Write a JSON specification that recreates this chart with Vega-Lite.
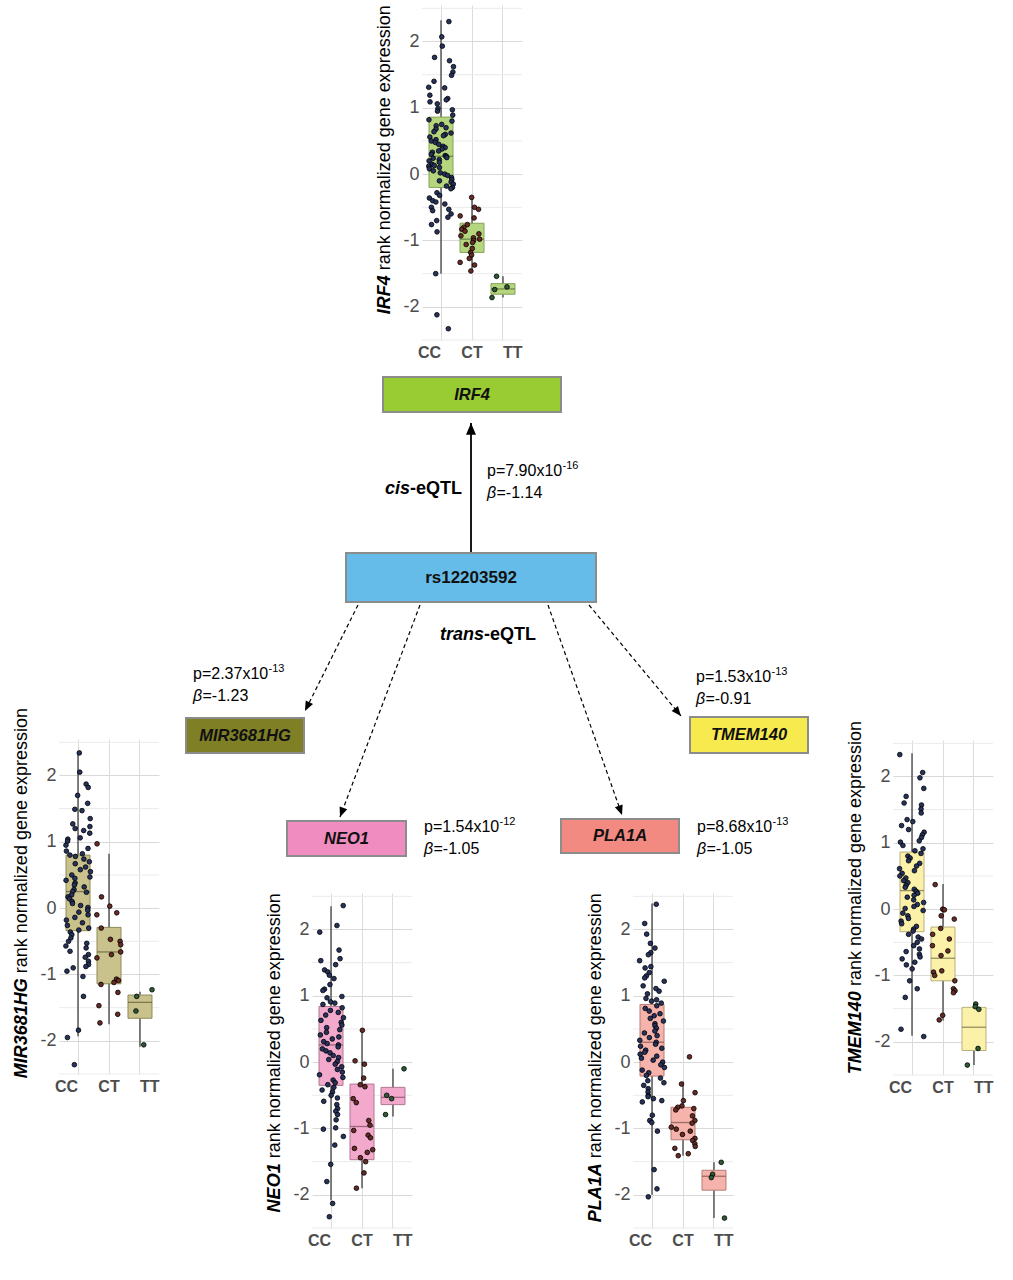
{
"$schema": "https://vega.github.io/schema/vega-lite/v6.json",
"autosize": {"type": "none"},
"padding": {"left": 0, "top": 5, "right": 1013, "bottom": 1280},
"background": "white",
"config": {
  "view": {"stroke": null},
  "font": "Liberation Sans",
  "concat": {"spacing": 0},
  "axisX": {"grid": true, "gridColor": "#dcdcdc", "gridWidth": 1, "ticks": false, "domain": false, "labelFontSize": 16, "labelFontWeight": "bold", "labelColor": "#4d4d4d", "labelPadding": 4, "labelAngle": 0, "bandPosition": 0.5},
  "axisY": {"grid": true, "gridColor": "#d9d9d9", "ticks": false, "domain": false, "labelFontSize": 18, "labelColor": "#4d4d4d", "labelPadding": 3}
},
"datasets": {
  "minorgrid": [{"minor": -2.5}, {"minor": -1.5}, {"minor": -0.5}, {"minor": 0.5}, {"minor": 1.5}, {"minor": 2.5}],
  "boxes": [
    {"gene":"IRF4","genotype":"CC","lower":-1.50,"q1":-0.20,"median":0.27,"q3":0.86,"upper":2.32},
    {"gene":"IRF4","genotype":"CT","lower":-1.46,"q1":-1.18,"median":-0.98,"q3":-0.74,"upper":-0.35},
    {"gene":"IRF4","genotype":"TT","lower":-1.86,"q1":-1.81,"median":-1.73,"q3":-1.65,"upper":-1.54},
    {"gene":"MIR3681HG","genotype":"CC","lower":-1.93,"q1":-0.34,"median":0.25,"q3":0.80,"upper":2.34},
    {"gene":"MIR3681HG","genotype":"CT","lower":-1.75,"q1":-1.14,"median":-0.66,"q3":-0.29,"upper":0.82},
    {"gene":"MIR3681HG","genotype":"TT","lower":-2.09,"q1":-1.66,"median":-1.42,"q3":-1.31,"upper":-1.26},
    {"gene":"NEO1","genotype":"CC","lower":-2.08,"q1":-0.35,"median":0.26,"q3":0.84,"upper":2.35},
    {"gene":"NEO1","genotype":"CT","lower":-1.90,"q1":-1.47,"median":-0.97,"q3":-0.33,"upper":0.45},
    {"gene":"NEO1","genotype":"TT","lower":-0.82,"q1":-0.64,"median":-0.53,"q3":-0.38,"upper":-0.10},
    {"gene":"PLA1A","genotype":"CC","lower":-2.00,"q1":-0.21,"median":0.30,"q3":0.87,"upper":2.39},
    {"gene":"PLA1A","genotype":"CT","lower":-1.41,"q1":-1.17,"median":-0.91,"q3":-0.68,"upper":-0.29},
    {"gene":"PLA1A","genotype":"TT","lower":-2.35,"q1":-1.93,"median":-1.72,"q3":-1.63,"upper":-1.51},
    {"gene":"TMEM140","genotype":"CC","lower":-1.91,"q1":-0.34,"median":0.28,"q3":0.86,"upper":2.35},
    {"gene":"TMEM140","genotype":"CT","lower":-1.68,"q1":-1.08,"median":-0.74,"q3":-0.27,"upper":0.38},
    {"gene":"TMEM140","genotype":"TT","lower":-2.35,"q1":-2.13,"median":-1.78,"q3":-1.48,"upper":-1.43}
  ],
  "irf4": [
    {"genotype":"CC","expr":2.30},{"genotype":"CC","expr":2.07},{"genotype":"CC","expr":1.93},{"genotype":"CC","expr":1.76},{"genotype":"CC","expr":1.71},{"genotype":"CC","expr":1.62},{"genotype":"CC","expr":1.54},{"genotype":"CC","expr":1.49},{"genotype":"CC","expr":1.40},{"genotype":"CC","expr":1.31},
    {"genotype":"CC","expr":1.30},{"genotype":"CC","expr":1.19},{"genotype":"CC","expr":1.14},{"genotype":"CC","expr":1.12},{"genotype":"CC","expr":1.09},{"genotype":"CC","expr":1.06},{"genotype":"CC","expr":0.99},{"genotype":"CC","expr":0.97},{"genotype":"CC","expr":0.95},{"genotype":"CC","expr":0.89},
    {"genotype":"CC","expr":0.82},{"genotype":"CC","expr":0.80},{"genotype":"CC","expr":0.75},{"genotype":"CC","expr":0.73},{"genotype":"CC","expr":0.70},{"genotype":"CC","expr":0.68},{"genotype":"CC","expr":0.64},{"genotype":"CC","expr":0.62},{"genotype":"CC","expr":0.60},{"genotype":"CC","expr":0.58},
    {"genotype":"CC","expr":0.56},{"genotype":"CC","expr":0.52},{"genotype":"CC","expr":0.50},{"genotype":"CC","expr":0.48},{"genotype":"CC","expr":0.45},{"genotype":"CC","expr":0.42},{"genotype":"CC","expr":0.40},{"genotype":"CC","expr":0.38},{"genotype":"CC","expr":0.35},{"genotype":"CC","expr":0.33},
    {"genotype":"CC","expr":0.30},{"genotype":"CC","expr":0.28},{"genotype":"CC","expr":0.27},{"genotype":"CC","expr":0.25},{"genotype":"CC","expr":0.24},{"genotype":"CC","expr":0.22},{"genotype":"CC","expr":0.20},{"genotype":"CC","expr":0.18},{"genotype":"CC","expr":0.15},{"genotype":"CC","expr":0.13},
    {"genotype":"CC","expr":0.12},{"genotype":"CC","expr":0.10},{"genotype":"CC","expr":0.08},{"genotype":"CC","expr":0.05},{"genotype":"CC","expr":0.02},{"genotype":"CC","expr":0.00},{"genotype":"CC","expr":-0.02},{"genotype":"CC","expr":-0.05},{"genotype":"CC","expr":-0.08},{"genotype":"CC","expr":-0.10},
    {"genotype":"CC","expr":-0.12},{"genotype":"CC","expr":-0.15},{"genotype":"CC","expr":-0.18},{"genotype":"CC","expr":-0.20},{"genotype":"CC","expr":-0.22},{"genotype":"CC","expr":-0.28},{"genotype":"CC","expr":-0.32},{"genotype":"CC","expr":-0.36},{"genotype":"CC","expr":-0.40},{"genotype":"CC","expr":-0.42},
    {"genotype":"CC","expr":-0.45},{"genotype":"CC","expr":-0.50},{"genotype":"CC","expr":-0.53},{"genotype":"CC","expr":-0.55},{"genotype":"CC","expr":-0.60},{"genotype":"CC","expr":-0.65},{"genotype":"CC","expr":-0.70},{"genotype":"CC","expr":-0.76},{"genotype":"CC","expr":-0.87},{"genotype":"CC","expr":-1.50},
    {"genotype":"CC","expr":-2.12},{"genotype":"CC","expr":-2.33},
    {"genotype":"CT","expr":-0.35},{"genotype":"CT","expr":-0.50},{"genotype":"CT","expr":-0.53},{"genotype":"CT","expr":-0.63},{"genotype":"CT","expr":-0.66},{"genotype":"CT","expr":-0.76},{"genotype":"CT","expr":-0.80},{"genotype":"CT","expr":-0.83},{"genotype":"CT","expr":-0.86},{"genotype":"CT","expr":-0.90},
    {"genotype":"CT","expr":-0.93},{"genotype":"CT","expr":-0.96},{"genotype":"CT","expr":-0.98},{"genotype":"CT","expr":-1.00},{"genotype":"CT","expr":-1.03},{"genotype":"CT","expr":-1.06},{"genotype":"CT","expr":-1.12},{"genotype":"CT","expr":-1.18},{"genotype":"CT","expr":-1.22},{"genotype":"CT","expr":-1.27},
    {"genotype":"CT","expr":-1.33},{"genotype":"CT","expr":-1.37},{"genotype":"CT","expr":-1.46},
    {"genotype":"TT","expr":-1.54},{"genotype":"TT","expr":-1.70},{"genotype":"TT","expr":-1.74},{"genotype":"TT","expr":-1.86}
  ],
  "mir": [
    {"genotype":"CC","expr":2.34},{"genotype":"CC","expr":2.05},{"genotype":"CC","expr":1.87},{"genotype":"CC","expr":1.82},{"genotype":"CC","expr":1.70},{"genotype":"CC","expr":1.58},{"genotype":"CC","expr":1.49},{"genotype":"CC","expr":1.47},{"genotype":"CC","expr":1.35},{"genotype":"CC","expr":1.27},
    {"genotype":"CC","expr":1.23},{"genotype":"CC","expr":1.20},{"genotype":"CC","expr":1.17},{"genotype":"CC","expr":1.13},{"genotype":"CC","expr":1.06},{"genotype":"CC","expr":1.04},{"genotype":"CC","expr":1.01},{"genotype":"CC","expr":0.95},{"genotype":"CC","expr":0.90},{"genotype":"CC","expr":0.86},
    {"genotype":"CC","expr":0.82},{"genotype":"CC","expr":0.80},{"genotype":"CC","expr":0.78},{"genotype":"CC","expr":0.74},{"genotype":"CC","expr":0.70},{"genotype":"CC","expr":0.67},{"genotype":"CC","expr":0.62},{"genotype":"CC","expr":0.58},{"genotype":"CC","expr":0.55},{"genotype":"CC","expr":0.50},
    {"genotype":"CC","expr":0.47},{"genotype":"CC","expr":0.45},{"genotype":"CC","expr":0.42},{"genotype":"CC","expr":0.38},{"genotype":"CC","expr":0.35},{"genotype":"CC","expr":0.32},{"genotype":"CC","expr":0.28},{"genotype":"CC","expr":0.25},{"genotype":"CC","expr":0.24},{"genotype":"CC","expr":0.20},
    {"genotype":"CC","expr":0.17},{"genotype":"CC","expr":0.14},{"genotype":"CC","expr":0.10},{"genotype":"CC","expr":0.07},{"genotype":"CC","expr":0.04},{"genotype":"CC","expr":0.01},{"genotype":"CC","expr":-0.03},{"genotype":"CC","expr":-0.06},{"genotype":"CC","expr":-0.10},{"genotype":"CC","expr":-0.14},
    {"genotype":"CC","expr":-0.18},{"genotype":"CC","expr":-0.22},{"genotype":"CC","expr":-0.26},{"genotype":"CC","expr":-0.30},{"genotype":"CC","expr":-0.33},{"genotype":"CC","expr":-0.36},{"genotype":"CC","expr":-0.40},{"genotype":"CC","expr":-0.45},{"genotype":"CC","expr":-0.50},{"genotype":"CC","expr":-0.53},
    {"genotype":"CC","expr":-0.57},{"genotype":"CC","expr":-0.60},{"genotype":"CC","expr":-0.65},{"genotype":"CC","expr":-0.70},{"genotype":"CC","expr":-0.74},{"genotype":"CC","expr":-0.80},{"genotype":"CC","expr":-0.85},{"genotype":"CC","expr":-0.88},{"genotype":"CC","expr":-0.90},{"genotype":"CC","expr":-0.95},
    {"genotype":"CC","expr":-1.03},{"genotype":"CC","expr":-1.33},{"genotype":"CC","expr":-1.84},{"genotype":"CC","expr":-1.95},{"genotype":"CC","expr":-2.36},
    {"genotype":"CT","expr":0.97},{"genotype":"CT","expr":0.17},{"genotype":"CT","expr":0.03},{"genotype":"CT","expr":-0.07},{"genotype":"CT","expr":-0.10},{"genotype":"CT","expr":-0.30},{"genotype":"CT","expr":-0.47},{"genotype":"CT","expr":-0.50},{"genotype":"CT","expr":-0.55},{"genotype":"CT","expr":-0.66},
    {"genotype":"CT","expr":-0.70},{"genotype":"CT","expr":-0.75},{"genotype":"CT","expr":-1.07},{"genotype":"CT","expr":-1.09},{"genotype":"CT","expr":-1.12},{"genotype":"CT","expr":-1.15},{"genotype":"CT","expr":-1.27},{"genotype":"CT","expr":-1.47},{"genotype":"CT","expr":-1.60},{"genotype":"CT","expr":-1.73},
    {"genotype":"TT","expr":-1.23},{"genotype":"TT","expr":-1.33},{"genotype":"TT","expr":-1.55},{"genotype":"TT","expr":-2.06}
  ],
  "neo1": [
    {"genotype":"CC","expr":2.36},{"genotype":"CC","expr":2.06},{"genotype":"CC","expr":1.96},{"genotype":"CC","expr":1.69},{"genotype":"CC","expr":1.56},{"genotype":"CC","expr":1.53},{"genotype":"CC","expr":1.47},{"genotype":"CC","expr":1.39},{"genotype":"CC","expr":1.36},{"genotype":"CC","expr":1.31},
    {"genotype":"CC","expr":1.26},{"genotype":"CC","expr":1.17},{"genotype":"CC","expr":1.10},{"genotype":"CC","expr":1.08},{"genotype":"CC","expr":0.99},{"genotype":"CC","expr":0.97},{"genotype":"CC","expr":0.91},{"genotype":"CC","expr":0.89},{"genotype":"CC","expr":0.87},{"genotype":"CC","expr":0.82},
    {"genotype":"CC","expr":0.78},{"genotype":"CC","expr":0.75},{"genotype":"CC","expr":0.71},{"genotype":"CC","expr":0.67},{"genotype":"CC","expr":0.63},{"genotype":"CC","expr":0.60},{"genotype":"CC","expr":0.56},{"genotype":"CC","expr":0.52},{"genotype":"CC","expr":0.49},{"genotype":"CC","expr":0.45},
    {"genotype":"CC","expr":0.41},{"genotype":"CC","expr":0.38},{"genotype":"CC","expr":0.35},{"genotype":"CC","expr":0.31},{"genotype":"CC","expr":0.28},{"genotype":"CC","expr":0.26},{"genotype":"CC","expr":0.23},{"genotype":"CC","expr":0.20},{"genotype":"CC","expr":0.17},{"genotype":"CC","expr":0.14},
    {"genotype":"CC","expr":0.10},{"genotype":"CC","expr":0.07},{"genotype":"CC","expr":0.04},{"genotype":"CC","expr":0.01},{"genotype":"CC","expr":-0.03},{"genotype":"CC","expr":-0.07},{"genotype":"CC","expr":-0.11},{"genotype":"CC","expr":-0.15},{"genotype":"CC","expr":-0.19},{"genotype":"CC","expr":-0.23},
    {"genotype":"CC","expr":-0.27},{"genotype":"CC","expr":-0.31},{"genotype":"CC","expr":-0.34},{"genotype":"CC","expr":-0.38},{"genotype":"CC","expr":-0.42},{"genotype":"CC","expr":-0.45},{"genotype":"CC","expr":-0.50},{"genotype":"CC","expr":-0.54},{"genotype":"CC","expr":-0.59},{"genotype":"CC","expr":-0.64},
    {"genotype":"CC","expr":-0.70},{"genotype":"CC","expr":-0.74},{"genotype":"CC","expr":-0.79},{"genotype":"CC","expr":-0.87},{"genotype":"CC","expr":-0.99},{"genotype":"CC","expr":-1.01},{"genotype":"CC","expr":-1.12},{"genotype":"CC","expr":-1.25},{"genotype":"CC","expr":-1.54},{"genotype":"CC","expr":-1.80},
    {"genotype":"CC","expr":-2.13},{"genotype":"CC","expr":-2.33},
    {"genotype":"CT","expr":0.48},{"genotype":"CT","expr":0.02},{"genotype":"CT","expr":-0.03},{"genotype":"CT","expr":-0.24},{"genotype":"CT","expr":-0.34},{"genotype":"CT","expr":-0.37},{"genotype":"CT","expr":-0.55},{"genotype":"CT","expr":-0.61},{"genotype":"CT","expr":-0.88},{"genotype":"CT","expr":-0.95},
    {"genotype":"CT","expr":-1.03},{"genotype":"CT","expr":-1.10},{"genotype":"CT","expr":-1.14},{"genotype":"CT","expr":-1.30},{"genotype":"CT","expr":-1.32},{"genotype":"CT","expr":-1.36},{"genotype":"CT","expr":-1.44},{"genotype":"CT","expr":-1.50},{"genotype":"CT","expr":-1.67},{"genotype":"CT","expr":-1.90},
    {"genotype":"TT","expr":-0.10},{"genotype":"TT","expr":-0.50},{"genotype":"TT","expr":-0.55},{"genotype":"TT","expr":-0.79}
  ],
  "pla1a": [
    {"genotype":"CC","expr":2.38},{"genotype":"CC","expr":2.09},{"genotype":"CC","expr":1.93},{"genotype":"CC","expr":1.79},{"genotype":"CC","expr":1.72},{"genotype":"CC","expr":1.65},{"genotype":"CC","expr":1.62},{"genotype":"CC","expr":1.53},{"genotype":"CC","expr":1.44},{"genotype":"CC","expr":1.42},
    {"genotype":"CC","expr":1.35},{"genotype":"CC","expr":1.30},{"genotype":"CC","expr":1.27},{"genotype":"CC","expr":1.22},{"genotype":"CC","expr":1.15},{"genotype":"CC","expr":1.11},{"genotype":"CC","expr":1.07},{"genotype":"CC","expr":1.03},{"genotype":"CC","expr":0.96},{"genotype":"CC","expr":0.94},
    {"genotype":"CC","expr":0.92},{"genotype":"CC","expr":0.89},{"genotype":"CC","expr":0.85},{"genotype":"CC","expr":0.81},{"genotype":"CC","expr":0.77},{"genotype":"CC","expr":0.73},{"genotype":"CC","expr":0.70},{"genotype":"CC","expr":0.66},{"genotype":"CC","expr":0.62},{"genotype":"CC","expr":0.58},
    {"genotype":"CC","expr":0.55},{"genotype":"CC","expr":0.51},{"genotype":"CC","expr":0.47},{"genotype":"CC","expr":0.44},{"genotype":"CC","expr":0.40},{"genotype":"CC","expr":0.37},{"genotype":"CC","expr":0.33},{"genotype":"CC","expr":0.30},{"genotype":"CC","expr":0.27},{"genotype":"CC","expr":0.24},
    {"genotype":"CC","expr":0.21},{"genotype":"CC","expr":0.18},{"genotype":"CC","expr":0.15},{"genotype":"CC","expr":0.12},{"genotype":"CC","expr":0.09},{"genotype":"CC","expr":0.06},{"genotype":"CC","expr":0.03},{"genotype":"CC","expr":0.00},{"genotype":"CC","expr":-0.04},{"genotype":"CC","expr":-0.08},
    {"genotype":"CC","expr":-0.12},{"genotype":"CC","expr":-0.16},{"genotype":"CC","expr":-0.20},{"genotype":"CC","expr":-0.24},{"genotype":"CC","expr":-0.28},{"genotype":"CC","expr":-0.31},{"genotype":"CC","expr":-0.35},{"genotype":"CC","expr":-0.40},{"genotype":"CC","expr":-0.45},{"genotype":"CC","expr":-0.50},
    {"genotype":"CC","expr":-0.52},{"genotype":"CC","expr":-0.55},{"genotype":"CC","expr":-0.58},{"genotype":"CC","expr":-0.60},{"genotype":"CC","expr":-0.80},{"genotype":"CC","expr":-0.88},{"genotype":"CC","expr":-0.91},{"genotype":"CC","expr":-1.04},{"genotype":"CC","expr":-1.62},{"genotype":"CC","expr":-1.91},
    {"genotype":"CC","expr":-2.03},
    {"genotype":"CT","expr":0.08},{"genotype":"CT","expr":-0.33},{"genotype":"CT","expr":-0.46},{"genotype":"CT","expr":-0.58},{"genotype":"CT","expr":-0.66},{"genotype":"CT","expr":-0.68},{"genotype":"CT","expr":-0.70},{"genotype":"CT","expr":-0.72},{"genotype":"CT","expr":-0.81},{"genotype":"CT","expr":-0.88},
    {"genotype":"CT","expr":-0.92},{"genotype":"CT","expr":-0.98},{"genotype":"CT","expr":-1.01},{"genotype":"CT","expr":-1.04},{"genotype":"CT","expr":-1.09},{"genotype":"CT","expr":-1.15},{"genotype":"CT","expr":-1.18},{"genotype":"CT","expr":-1.23},{"genotype":"CT","expr":-1.27},{"genotype":"CT","expr":-1.30},
    {"genotype":"CT","expr":-1.38},{"genotype":"CT","expr":-1.41},
    {"genotype":"TT","expr":-1.51},{"genotype":"TT","expr":-1.69},{"genotype":"TT","expr":-1.74},{"genotype":"TT","expr":-2.35}
  ],
  "tmem140": [
    {"genotype":"CC","expr":2.33},{"genotype":"CC","expr":2.06},{"genotype":"CC","expr":1.98},{"genotype":"CC","expr":1.82},{"genotype":"CC","expr":1.70},{"genotype":"CC","expr":1.60},{"genotype":"CC","expr":1.57},{"genotype":"CC","expr":1.51},{"genotype":"CC","expr":1.45},{"genotype":"CC","expr":1.35},
    {"genotype":"CC","expr":1.32},{"genotype":"CC","expr":1.26},{"genotype":"CC","expr":1.20},{"genotype":"CC","expr":1.16},{"genotype":"CC","expr":1.12},{"genotype":"CC","expr":1.08},{"genotype":"CC","expr":1.03},{"genotype":"CC","expr":1.01},{"genotype":"CC","expr":0.96},{"genotype":"CC","expr":0.91},
    {"genotype":"CC","expr":0.88},{"genotype":"CC","expr":0.84},{"genotype":"CC","expr":0.80},{"genotype":"CC","expr":0.77},{"genotype":"CC","expr":0.73},{"genotype":"CC","expr":0.69},{"genotype":"CC","expr":0.65},{"genotype":"CC","expr":0.61},{"genotype":"CC","expr":0.58},{"genotype":"CC","expr":0.54},
    {"genotype":"CC","expr":0.50},{"genotype":"CC","expr":0.47},{"genotype":"CC","expr":0.43},{"genotype":"CC","expr":0.40},{"genotype":"CC","expr":0.36},{"genotype":"CC","expr":0.33},{"genotype":"CC","expr":0.30},{"genotype":"CC","expr":0.27},{"genotype":"CC","expr":0.24},{"genotype":"CC","expr":0.21},
    {"genotype":"CC","expr":0.18},{"genotype":"CC","expr":0.14},{"genotype":"CC","expr":0.10},{"genotype":"CC","expr":0.07},{"genotype":"CC","expr":0.04},{"genotype":"CC","expr":0.01},{"genotype":"CC","expr":-0.02},{"genotype":"CC","expr":-0.06},{"genotype":"CC","expr":-0.10},{"genotype":"CC","expr":-0.14},
    {"genotype":"CC","expr":-0.18},{"genotype":"CC","expr":-0.22},{"genotype":"CC","expr":-0.26},{"genotype":"CC","expr":-0.30},{"genotype":"CC","expr":-0.33},{"genotype":"CC","expr":-0.38},{"genotype":"CC","expr":-0.42},{"genotype":"CC","expr":-0.45},{"genotype":"CC","expr":-0.50},{"genotype":"CC","expr":-0.55},
    {"genotype":"CC","expr":-0.60},{"genotype":"CC","expr":-0.64},{"genotype":"CC","expr":-0.68},{"genotype":"CC","expr":-0.72},{"genotype":"CC","expr":-0.75},{"genotype":"CC","expr":-0.80},{"genotype":"CC","expr":-0.84},{"genotype":"CC","expr":-0.90},{"genotype":"CC","expr":-1.08},{"genotype":"CC","expr":-1.20},
    {"genotype":"CC","expr":-1.33},{"genotype":"CC","expr":-1.81},{"genotype":"CC","expr":-1.92},
    {"genotype":"CT","expr":0.37},{"genotype":"CT","expr":0.00},{"genotype":"CT","expr":-0.01},{"genotype":"CT","expr":-0.10},{"genotype":"CT","expr":-0.15},{"genotype":"CT","expr":-0.29},{"genotype":"CT","expr":-0.38},{"genotype":"CT","expr":-0.45},{"genotype":"CT","expr":-0.55},{"genotype":"CT","expr":-0.63},
    {"genotype":"CT","expr":-0.70},{"genotype":"CT","expr":-0.93},{"genotype":"CT","expr":-0.95},{"genotype":"CT","expr":-1.00},{"genotype":"CT","expr":-1.08},{"genotype":"CT","expr":-1.20},{"genotype":"CT","expr":-1.23},{"genotype":"CT","expr":-1.26},{"genotype":"CT","expr":-1.60},{"genotype":"CT","expr":-1.67},
    {"genotype":"TT","expr":-1.43},{"genotype":"TT","expr":-1.47},{"genotype":"TT","expr":-1.51},{"genotype":"TT","expr":-2.10},{"genotype":"TT","expr":-2.35}
  ],
  "nodes": [
    {"node":"IRF4","kind":"gene","left":383,"right":561,"top":377,"bottom":412},
    {"node":"rs12203592","kind":"snp","left":346,"right":596,"top":553,"bottom":602},
    {"node":"MIR3681HG","kind":"gene","left":186,"right":304,"top":718,"bottom":753},
    {"node":"NEO1","kind":"gene","left":287,"right":406,"top":821,"bottom":856},
    {"node":"PLA1A","kind":"gene","left":561,"right":679,"top":819,"bottom":853},
    {"node":"TMEM140","kind":"gene","left":690,"right":808,"top":717,"bottom":753}
  ],
  "edges": [
    {"target":"IRF4","kind":"cis","x0":471,"y0":552,"x1":471,"y1":423,"lx":487,"ly":476,"p":"7.90","pexp":"-16","beta":"-1.14"},
    {"target":"MIR3681HG","kind":"trans","x0":358,"y0":605,"x1":305,"y1":711,"lx":193,"ly":679,"p":"2.37","pexp":"-13","beta":"-1.23"},
    {"target":"NEO1","kind":"trans","x0":420,"y0":605,"x1":340,"y1":817,"lx":424,"ly":832,"p":"1.54","pexp":"-12","beta":"-1.05"},
    {"target":"PLA1A","kind":"trans","x0":548,"y0":605,"x1":622,"y1":815,"lx":697,"ly":832,"p":"8.68","pexp":"-13","beta":"-1.05"},
    {"target":"TMEM140","kind":"trans","x0":589,"y0":605,"x1":681,"y1":716,"lx":696,"ly":682,"p":"1.53","pexp":"-13","beta":"-0.91"}
  ],
  "eqtl": [
    {"term":"cis","x":410,"y":494},
    {"term":"trans","x":484,"y":640}
  ]
},
"spacing": 0,
"hconcat": [
  {
    "bounds": "flush", "spacing": 0,
    "vconcat": [
      {"width": 170, "height": 734, "data": {"values": []}, "mark": {"type": "point", "opacity": 0}},
      {
        "bounds": "flush", "spacing": 0,
        "hconcat": [
          {"width": 59, "height": 335, "data": {"values": []}, "mark": {"type": "point", "opacity": 0}},
          {
            "width": 100, "height": 335,
            "layer": [
              {"data": {"name": "minorgrid"},
               "mark": {"type": "rule", "color": "#ebebeb", "strokeWidth": 1},
               "encoding": {"y": {"field": "minor", "type": "quantitative", "title": null, "scale": {"domain": [-2.5, 2.55], "nice": false, "zero": false},
                                  "axis": {"values": [-2,-1,0,1,2], "labelExpr": "'' + datum.value"}}}},
              {"data": {"name": "boxes"}, "transform": [{"filter": "datum.gene === 'MIR3681HG'"}],
               "mark": {"type": "rule", "color": "#333333", "strokeWidth": 1.2},
               "encoding": {
                 "x": {"field": "genotype", "type": "nominal", "title": null, "scale": {"type": "band", "domain": ["CC","CT","TT"], "paddingInner": 0, "paddingOuter": 0.113},
                       "axis": {"labelAlign": {"condition": [{"test": "datum.value === 'CC'", "value": "right"}, {"test": "datum.value === 'TT'", "value": "left"}], "value": "center"}}},
                 "y": {"field": "lower", "type": "quantitative", "title": null},
                 "y2": {"field": "upper"}}},
              {"data": {"name": "boxes"}, "transform": [{"filter": "datum.gene === 'MIR3681HG'"}],
               "mark": {"type": "bar", "width": 24, "fill": "#c9c28c", "stroke": "#8f8a5a", "strokeWidth": 1},
               "encoding": {"x": {"field": "genotype", "type": "nominal", "title": null}, "y": {"field": "q1", "type": "quantitative", "title": null}, "y2": {"field": "q3"}}},
              {"data": {"name": "boxes"}, "transform": [{"filter": "datum.gene === 'MIR3681HG'"}],
               "mark": {"type": "tick", "size": 24, "thickness": 1.3, "color": "#5e5a33"},
               "encoding": {"x": {"field": "genotype", "type": "nominal", "title": null}, "y": {"field": "median", "type": "quantitative", "title": null}}},
              {"data": {"name": "mir"}, "transform": [{"window": [{"op": "row_number", "as": "rn"}]}, {"calculate": "((abs(sin(datum.rn * 12.9898 + 3.1)) * 43758.5453) % 1) - 0.5", "as": "jit"}],
               "mark": {"type": "circle", "size": 22, "stroke": "#000000", "strokeWidth": 0.8, "opacity": 1},
               "encoding": {"x": {"field": "genotype", "type": "nominal", "title": null},
                            "xOffset": {"field": "jit", "type": "quantitative", "scale": {"domain": [-0.5, 0.5], "range": [3, 28]}},
                            "y": {"field": "expr", "type": "quantitative", "title": null},
                            "fill": {"field": "genotype", "type": "nominal", "scale": {"domain": ["CC","CT","TT"], "range": ["#27335f","#6a2b26","#2c5a36"]}, "legend": null}}},
              {"data": {"values": [{"label": "MIR3681HG"}]},
               "mark": {"type": "text", "angle": 270, "align": "right", "baseline": "alphabetic", "fontSize": 18, "fontWeight": "bold", "fontStyle": "italic", "xOffset": -51, "dx": -5, "color": "#000000"},
               "encoding": {"x": {"datum": "CC"}, "y": {"datum": -0.98}, "text": {"field": "label"}}},
              {"data": {"values": [{"label": "rank normalized gene expression"}]},
               "mark": {"type": "text", "angle": 270, "align": "left", "baseline": "alphabetic", "fontSize": 18, "xOffset": -51, "color": "#000000"},
               "encoding": {"x": {"datum": "CC"}, "y": {"datum": -0.98}, "text": {"field": "label"}}}
            ]
          }
        ]
      }
    ]
  },
  {
    "spacing": 0,
    "vconcat": [
      {
        "bounds": "flush", "spacing": 0,
        "hconcat": [
          {"width": 252, "height": 360, "data": {"values": []}, "mark": {"type": "point", "opacity": 0}},
          {
            "width": 100, "height": 335,
            "layer": [
              {"data": {"name": "minorgrid"},
               "mark": {"type": "rule", "color": "#ebebeb", "strokeWidth": 1},
               "encoding": {"y": {"field": "minor", "type": "quantitative", "title": null, "scale": {"domain": [-2.5, 2.55], "nice": false, "zero": false},
                                  "axis": {"values": [-2,-1,0,1,2], "labelExpr": "'' + datum.value"}}}},
              {"data": {"name": "boxes"}, "transform": [{"filter": "datum.gene === 'IRF4'"}],
               "mark": {"type": "rule", "color": "#333333", "strokeWidth": 1.2},
               "encoding": {
                 "x": {"field": "genotype", "type": "nominal", "title": null, "scale": {"type": "band", "domain": ["CC","CT","TT"], "paddingInner": 0, "paddingOuter": 0.113},
                       "axis": {"labelAlign": {"condition": [{"test": "datum.value === 'CC'", "value": "right"}, {"test": "datum.value === 'TT'", "value": "left"}], "value": "center"}}},
                 "y": {"field": "lower", "type": "quantitative", "title": null},
                 "y2": {"field": "upper"}}},
              {"data": {"name": "boxes"}, "transform": [{"filter": "datum.gene === 'IRF4'"}],
               "mark": {"type": "bar", "width": 24, "fill": "#b5d57f", "stroke": "#86a35a", "strokeWidth": 1},
               "encoding": {"x": {"field": "genotype", "type": "nominal", "title": null}, "y": {"field": "q1", "type": "quantitative", "title": null}, "y2": {"field": "q3"}}},
              {"data": {"name": "boxes"}, "transform": [{"filter": "datum.gene === 'IRF4'"}],
               "mark": {"type": "tick", "size": 24, "thickness": 1.3, "color": "#556b35"},
               "encoding": {"x": {"field": "genotype", "type": "nominal", "title": null}, "y": {"field": "median", "type": "quantitative", "title": null}}},
              {"data": {"name": "irf4"}, "transform": [{"window": [{"op": "row_number", "as": "rn"}]}, {"calculate": "((abs(sin(datum.rn * 12.9898 + 1.3)) * 43758.5453) % 1) - 0.5", "as": "jit"}],
               "mark": {"type": "circle", "size": 22, "stroke": "#000000", "strokeWidth": 0.8, "opacity": 1},
               "encoding": {"x": {"field": "genotype", "type": "nominal", "title": null},
                            "xOffset": {"field": "jit", "type": "quantitative", "scale": {"domain": [-0.5, 0.5], "range": [3, 28]}},
                            "y": {"field": "expr", "type": "quantitative", "title": null},
                            "fill": {"field": "genotype", "type": "nominal", "scale": {"domain": ["CC","CT","TT"], "range": ["#27335f","#6a2b26","#2c5a36"]}, "legend": null}}},
              {"data": {"values": [{"label": "IRF4"}]},
               "mark": {"type": "text", "angle": 270, "align": "right", "baseline": "alphabetic", "fontSize": 18, "fontWeight": "bold", "fontStyle": "italic", "xOffset": -51, "dx": -5, "color": "#000000"},
               "encoding": {"x": {"datum": "CC"}, "y": {"datum": -1.45}, "text": {"field": "label"}}},
              {"data": {"values": [{"label": "rank normalized gene expression"}]},
               "mark": {"type": "text", "angle": 270, "align": "left", "baseline": "alphabetic", "fontSize": 18, "xOffset": -51, "color": "#000000"},
               "encoding": {"x": {"datum": "CC"}, "y": {"datum": -1.45}, "text": {"field": "label"}}}
            ]
          }
        ]
      },
      {
        "width": 673, "height": 528,
        "layer": [
          {"data": {"name": "edges"}, "transform": [{"filter": "datum.kind === 'cis'"}],
           "mark": {"type": "rule", "color": "#000000", "strokeWidth": 1.8},
           "encoding": {
             "x": {"field": "x0", "type": "quantitative", "scale": {"domain": [170, 843], "nice": false, "zero": false}, "axis": null},
             "y": {"field": "y0", "type": "quantitative", "scale": {"domain": [365, 893], "nice": false, "zero": false, "reverse": true}, "axis": null},
             "x2": {"field": "x1"}, "y2": {"field": "y1"}}},
          {"data": {"name": "edges"}, "transform": [{"filter": "datum.kind === 'trans'"}],
           "mark": {"type": "rule", "color": "#000000", "strokeWidth": 1.2, "strokeDash": [4, 3]},
           "encoding": {
             "x": {"field": "x0", "type": "quantitative", "axis": null},
             "y": {"field": "y0", "type": "quantitative", "axis": null},
             "x2": {"field": "x1"}, "y2": {"field": "y1"}}},
          {"data": {"name": "edges"}, "transform": [{"calculate": "atan2(datum.x1 - datum.x0, datum.y0 - datum.y1) * 180 / PI", "as": "heading"}],
           "mark": {"type": "point", "shape": "M0,0L0.42,1L-0.42,1Z", "filled": true, "color": "#000000", "opacity": 1},
           "encoding": {
             "x": {"field": "x1", "type": "quantitative", "axis": null},
             "y": {"field": "y1", "type": "quantitative", "axis": null},
             "angle": {"field": "heading", "type": "quantitative", "scale": null},
             "size": {"condition": {"test": "datum.kind === 'cis'", "value": 560}, "value": 380}}},
          {"data": {"name": "nodes"},
           "mark": {"type": "rect", "stroke": "#8c8c8c", "strokeWidth": 2, "opacity": 1},
           "encoding": {
             "x": {"field": "left", "type": "quantitative", "axis": null}, "x2": {"field": "right"},
             "y": {"field": "top", "type": "quantitative", "axis": null}, "y2": {"field": "bottom"},
             "color": {"field": "node", "type": "nominal", "legend": null,
                      "scale": {"domain": ["IRF4","rs12203592","MIR3681HG","NEO1","PLA1A","TMEM140"], "range": ["#99cc33","#66bce8","#7f7f26","#f08cbf","#f28a82","#f7ea4f"]}}}},
          {"data": {"name": "nodes"}, "transform": [{"filter": "datum.kind === 'gene'"}, {"calculate": "(datum.left + datum.right) / 2", "as": "cx"}, {"calculate": "(datum.top + datum.bottom) / 2", "as": "cy"}],
           "mark": {"type": "text", "fontSize": 16.5, "fontWeight": "bold", "fontStyle": "italic", "color": "#111111", "align": "center", "baseline": "middle"},
           "encoding": {"x": {"field": "cx", "type": "quantitative", "axis": null}, "y": {"field": "cy", "type": "quantitative", "axis": null}, "text": {"field": "node"}}},
          {"data": {"name": "nodes"}, "transform": [{"filter": "datum.kind === 'snp'"}, {"calculate": "(datum.left + datum.right) / 2", "as": "cx"}, {"calculate": "(datum.top + datum.bottom) / 2", "as": "cy"}],
           "mark": {"type": "text", "fontSize": 17, "fontWeight": "bold", "color": "#111111", "align": "center", "baseline": "middle"},
           "encoding": {"x": {"field": "cx", "type": "quantitative", "axis": null}, "y": {"field": "cy", "type": "quantitative", "axis": null}, "text": {"field": "node"}}},
          {"data": {"name": "edges"}, "transform": [{"calculate": "'p=' + datum.p + 'x10'", "as": "ptext"}],
           "mark": {"type": "text", "align": "left", "baseline": "alphabetic", "fontSize": 16, "color": "#000000"},
           "encoding": {"x": {"field": "lx", "type": "quantitative", "axis": null}, "y": {"field": "ly", "type": "quantitative", "axis": null}, "text": {"field": "ptext"}}},
          {"data": {"name": "edges"},
           "mark": {"type": "text", "align": "left", "baseline": "alphabetic", "fontSize": 11, "dx": 75.5, "dy": -7, "color": "#000000"},
           "encoding": {"x": {"field": "lx", "type": "quantitative", "axis": null}, "y": {"field": "ly", "type": "quantitative", "axis": null}, "text": {"field": "pexp"}}},
          {"data": {"name": "edges"},
           "mark": {"type": "text", "align": "left", "baseline": "alphabetic", "fontSize": 16, "fontStyle": "italic", "dy": 22, "color": "#000000"},
           "encoding": {"x": {"field": "lx", "type": "quantitative", "axis": null}, "y": {"field": "ly", "type": "quantitative", "axis": null}, "text": {"value": "β"}}},
          {"data": {"name": "edges"}, "transform": [{"calculate": "'=' + datum.beta", "as": "btext"}],
           "mark": {"type": "text", "align": "left", "baseline": "alphabetic", "fontSize": 16, "dx": 9.5, "dy": 22, "color": "#000000"},
           "encoding": {"x": {"field": "lx", "type": "quantitative", "axis": null}, "y": {"field": "ly", "type": "quantitative", "axis": null}, "text": {"field": "btext"}}},
          {"data": {"name": "eqtl"},
           "mark": {"type": "text", "align": "right", "baseline": "alphabetic", "fontSize": 18, "fontWeight": "bold", "fontStyle": "italic", "color": "#000000"},
           "encoding": {"x": {"field": "x", "type": "quantitative", "axis": null}, "y": {"field": "y", "type": "quantitative", "axis": null}, "text": {"field": "term"}}},
          {"data": {"name": "eqtl"},
           "mark": {"type": "text", "align": "left", "baseline": "alphabetic", "fontSize": 18, "fontWeight": "bold", "color": "#000000"},
           "encoding": {"x": {"field": "x", "type": "quantitative", "axis": null}, "y": {"field": "y", "type": "quantitative", "axis": null}, "text": {"value": "-eQTL"}}}
        ]
      },
      {
        "bounds": "flush", "spacing": 0,
        "hconcat": [
          {"width": 141.5, "height": 335, "data": {"values": []}, "mark": {"type": "point", "opacity": 0}},
          {
            "width": 100, "height": 335,
            "layer": [
              {"data": {"name": "minorgrid"},
               "mark": {"type": "rule", "color": "#ebebeb", "strokeWidth": 1},
               "encoding": {"y": {"field": "minor", "type": "quantitative", "title": null, "scale": {"domain": [-2.5, 2.55], "nice": false, "zero": false},
                                  "axis": {"values": [-2,-1,0,1,2], "labelExpr": "'' + datum.value"}}}},
              {"data": {"name": "boxes"}, "transform": [{"filter": "datum.gene === 'NEO1'"}],
               "mark": {"type": "rule", "color": "#333333", "strokeWidth": 1.2},
               "encoding": {
                 "x": {"field": "genotype", "type": "nominal", "title": null, "scale": {"type": "band", "domain": ["CC","CT","TT"], "paddingInner": 0, "paddingOuter": 0.113},
                       "axis": {"labelAlign": {"condition": [{"test": "datum.value === 'CC'", "value": "right"}, {"test": "datum.value === 'TT'", "value": "left"}], "value": "center"}}},
                 "y": {"field": "lower", "type": "quantitative", "title": null},
                 "y2": {"field": "upper"}}},
              {"data": {"name": "boxes"}, "transform": [{"filter": "datum.gene === 'NEO1'"}],
               "mark": {"type": "bar", "width": 24, "fill": "#f2a9cb", "stroke": "#b27893", "strokeWidth": 1},
               "encoding": {"x": {"field": "genotype", "type": "nominal", "title": null}, "y": {"field": "q1", "type": "quantitative", "title": null}, "y2": {"field": "q3"}}},
              {"data": {"name": "boxes"}, "transform": [{"filter": "datum.gene === 'NEO1'"}],
               "mark": {"type": "tick", "size": 24, "thickness": 1.3, "color": "#7a4a60"},
               "encoding": {"x": {"field": "genotype", "type": "nominal", "title": null}, "y": {"field": "median", "type": "quantitative", "title": null}}},
              {"data": {"name": "neo1"}, "transform": [{"window": [{"op": "row_number", "as": "rn"}]}, {"calculate": "((abs(sin(datum.rn * 12.9898 + 5.7)) * 43758.5453) % 1) - 0.5", "as": "jit"}],
               "mark": {"type": "circle", "size": 22, "stroke": "#000000", "strokeWidth": 0.8, "opacity": 1},
               "encoding": {"x": {"field": "genotype", "type": "nominal", "title": null},
                            "xOffset": {"field": "jit", "type": "quantitative", "scale": {"domain": [-0.5, 0.5], "range": [3, 28]}},
                            "y": {"field": "expr", "type": "quantitative", "title": null},
                            "fill": {"field": "genotype", "type": "nominal", "scale": {"domain": ["CC","CT","TT"], "range": ["#27335f","#6a2b26","#2c5a36"]}, "legend": null}}},
              {"data": {"values": [{"label": "NEO1"}]},
               "mark": {"type": "text", "angle": 270, "align": "right", "baseline": "alphabetic", "fontSize": 18, "fontWeight": "bold", "fontStyle": "italic", "xOffset": -51, "dx": -5, "color": "#000000"},
               "encoding": {"x": {"datum": "CC"}, "y": {"datum": -1.45}, "text": {"field": "label"}}},
              {"data": {"values": [{"label": "rank normalized gene expression"}]},
               "mark": {"type": "text", "angle": 270, "align": "left", "baseline": "alphabetic", "fontSize": 18, "xOffset": -51, "color": "#000000"},
               "encoding": {"x": {"datum": "CC"}, "y": {"datum": -1.45}, "text": {"field": "label"}}}
            ]
          },
          {"width": 220.5, "height": 335, "data": {"values": []}, "mark": {"type": "point", "opacity": 0}},
          {
            "width": 100, "height": 335,
            "layer": [
              {"data": {"name": "minorgrid"},
               "mark": {"type": "rule", "color": "#ebebeb", "strokeWidth": 1},
               "encoding": {"y": {"field": "minor", "type": "quantitative", "title": null, "scale": {"domain": [-2.5, 2.55], "nice": false, "zero": false},
                                  "axis": {"values": [-2,-1,0,1,2], "labelExpr": "'' + datum.value"}}}},
              {"data": {"name": "boxes"}, "transform": [{"filter": "datum.gene === 'PLA1A'"}],
               "mark": {"type": "rule", "color": "#333333", "strokeWidth": 1.2},
               "encoding": {
                 "x": {"field": "genotype", "type": "nominal", "title": null, "scale": {"type": "band", "domain": ["CC","CT","TT"], "paddingInner": 0, "paddingOuter": 0.113},
                       "axis": {"labelAlign": {"condition": [{"test": "datum.value === 'CC'", "value": "right"}, {"test": "datum.value === 'TT'", "value": "left"}], "value": "center"}}},
                 "y": {"field": "lower", "type": "quantitative", "title": null},
                 "y2": {"field": "upper"}}},
              {"data": {"name": "boxes"}, "transform": [{"filter": "datum.gene === 'PLA1A'"}],
               "mark": {"type": "bar", "width": 24, "fill": "#f5b3ab", "stroke": "#b57d77", "strokeWidth": 1},
               "encoding": {"x": {"field": "genotype", "type": "nominal", "title": null}, "y": {"field": "q1", "type": "quantitative", "title": null}, "y2": {"field": "q3"}}},
              {"data": {"name": "boxes"}, "transform": [{"filter": "datum.gene === 'PLA1A'"}],
               "mark": {"type": "tick", "size": 24, "thickness": 1.3, "color": "#7d4b46"},
               "encoding": {"x": {"field": "genotype", "type": "nominal", "title": null}, "y": {"field": "median", "type": "quantitative", "title": null}}},
              {"data": {"name": "pla1a"}, "transform": [{"window": [{"op": "row_number", "as": "rn"}]}, {"calculate": "((abs(sin(datum.rn * 12.9898 + 7.9)) * 43758.5453) % 1) - 0.5", "as": "jit"}],
               "mark": {"type": "circle", "size": 22, "stroke": "#000000", "strokeWidth": 0.8, "opacity": 1},
               "encoding": {"x": {"field": "genotype", "type": "nominal", "title": null},
                            "xOffset": {"field": "jit", "type": "quantitative", "scale": {"domain": [-0.5, 0.5], "range": [3, 28]}},
                            "y": {"field": "expr", "type": "quantitative", "title": null},
                            "fill": {"field": "genotype", "type": "nominal", "scale": {"domain": ["CC","CT","TT"], "range": ["#27335f","#6a2b26","#2c5a36"]}, "legend": null}}},
              {"data": {"values": [{"label": "PLA1A"}]},
               "mark": {"type": "text", "angle": 270, "align": "right", "baseline": "alphabetic", "fontSize": 18, "fontWeight": "bold", "fontStyle": "italic", "xOffset": -51, "dx": -5, "color": "#000000"},
               "encoding": {"x": {"datum": "CC"}, "y": {"datum": -1.45}, "text": {"field": "label"}}},
              {"data": {"values": [{"label": "rank normalized gene expression"}]},
               "mark": {"type": "text", "angle": 270, "align": "left", "baseline": "alphabetic", "fontSize": 18, "xOffset": -51, "color": "#000000"},
               "encoding": {"x": {"datum": "CC"}, "y": {"datum": -1.45}, "text": {"field": "label"}}}
            ]
          }
        ]
      }
    ]
  },
  {
    "bounds": "flush", "spacing": 0,
    "vconcat": [
      {"width": 120, "height": 734.5, "data": {"values": []}, "mark": {"type": "point", "opacity": 0}},
      {
        "bounds": "flush", "spacing": 0,
        "hconcat": [
          {"width": 50, "height": 335, "data": {"values": []}, "mark": {"type": "point", "opacity": 0}},
          {
            "width": 100, "height": 335,
            "layer": [
              {"data": {"name": "minorgrid"},
               "mark": {"type": "rule", "color": "#ebebeb", "strokeWidth": 1},
               "encoding": {"y": {"field": "minor", "type": "quantitative", "title": null, "scale": {"domain": [-2.5, 2.55], "nice": false, "zero": false},
                                  "axis": {"values": [-2,-1,0,1,2], "labelExpr": "'' + datum.value"}}}},
              {"data": {"name": "boxes"}, "transform": [{"filter": "datum.gene === 'TMEM140'"}],
               "mark": {"type": "rule", "color": "#333333", "strokeWidth": 1.2},
               "encoding": {
                 "x": {"field": "genotype", "type": "nominal", "title": null, "scale": {"type": "band", "domain": ["CC","CT","TT"], "paddingInner": 0, "paddingOuter": 0.113},
                       "axis": {"labelAlign": {"condition": [{"test": "datum.value === 'CC'", "value": "right"}, {"test": "datum.value === 'TT'", "value": "left"}], "value": "center"}}},
                 "y": {"field": "lower", "type": "quantitative", "title": null},
                 "y2": {"field": "upper"}}},
              {"data": {"name": "boxes"}, "transform": [{"filter": "datum.gene === 'TMEM140'"}],
               "mark": {"type": "bar", "width": 24, "fill": "#fbf1a9", "stroke": "#b8b07a", "strokeWidth": 1},
               "encoding": {"x": {"field": "genotype", "type": "nominal", "title": null}, "y": {"field": "q1", "type": "quantitative", "title": null}, "y2": {"field": "q3"}}},
              {"data": {"name": "boxes"}, "transform": [{"filter": "datum.gene === 'TMEM140'"}],
               "mark": {"type": "tick", "size": 24, "thickness": 1.3, "color": "#6b6540"},
               "encoding": {"x": {"field": "genotype", "type": "nominal", "title": null}, "y": {"field": "median", "type": "quantitative", "title": null}}},
              {"data": {"name": "tmem140"}, "transform": [{"window": [{"op": "row_number", "as": "rn"}]}, {"calculate": "((abs(sin(datum.rn * 12.9898 + 9.4)) * 43758.5453) % 1) - 0.5", "as": "jit"}],
               "mark": {"type": "circle", "size": 22, "stroke": "#000000", "strokeWidth": 0.8, "opacity": 1},
               "encoding": {"x": {"field": "genotype", "type": "nominal", "title": null},
                            "xOffset": {"field": "jit", "type": "quantitative", "scale": {"domain": [-0.5, 0.5], "range": [3, 28]}},
                            "y": {"field": "expr", "type": "quantitative", "title": null},
                            "fill": {"field": "genotype", "type": "nominal", "scale": {"domain": ["CC","CT","TT"], "range": ["#27335f","#6a2b26","#2c5a36"]}, "legend": null}}},
              {"data": {"values": [{"label": "TMEM140"}]},
               "mark": {"type": "text", "angle": 270, "align": "right", "baseline": "alphabetic", "fontSize": 18, "fontWeight": "bold", "fontStyle": "italic", "xOffset": -51, "dx": -5, "color": "#000000"},
               "encoding": {"x": {"datum": "CC"}, "y": {"datum": -1.16}, "text": {"field": "label"}}},
              {"data": {"values": [{"label": "rank normalized gene expression"}]},
               "mark": {"type": "text", "angle": 270, "align": "left", "baseline": "alphabetic", "fontSize": 18, "xOffset": -51, "color": "#000000"},
               "encoding": {"x": {"datum": "CC"}, "y": {"datum": -1.16}, "text": {"field": "label"}}}
            ]
          }
        ]
      }
    ]
  }
]
}
